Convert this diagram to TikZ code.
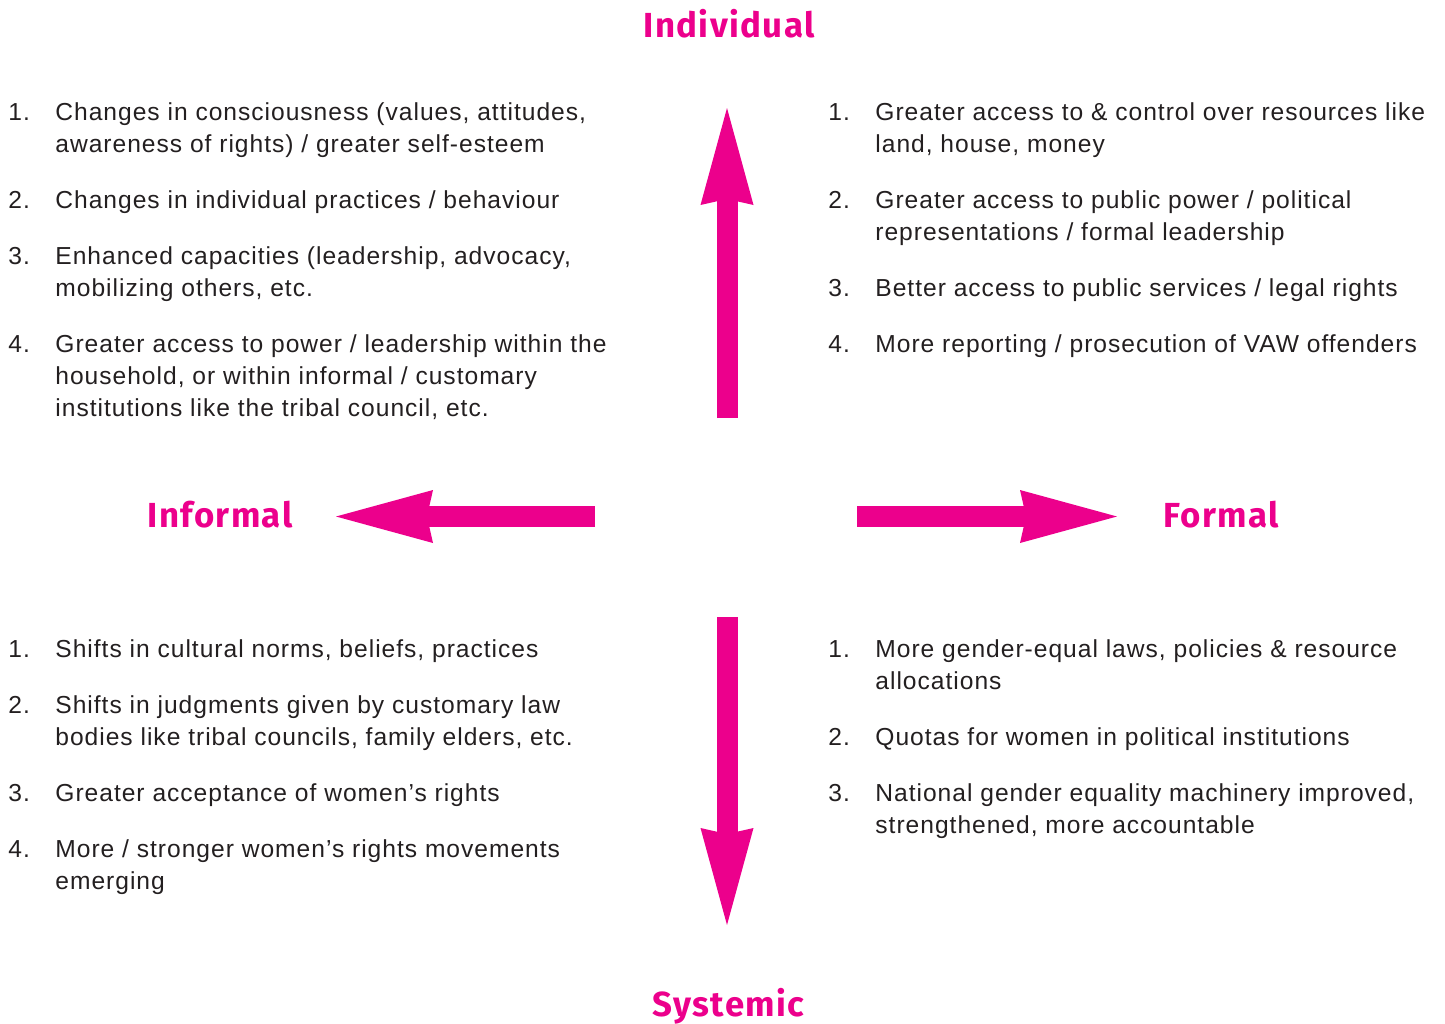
\documentclass[tikz,border=0pt]{standalone}
\usepackage{fontspec}
\setmainfont{Liberation Sans}[LetterSpace=4]
\newfontfamily\headfont{Fira Sans}[LetterSpace=4]
\usetikzlibrary{arrows.meta}
\definecolor{ChangePink}{RGB}{236,0,140}
\definecolor{ChangeText}{RGB}{35,31,32}

\begin{document}
\begin{tikzpicture}[
    x=0.5pt,y=-0.5pt,
    head/.style={anchor=base,inner sep=0pt,text=ChangePink,font=\headfont\bfseries\fontsize{17.4}{20}\selectfont},
    quad/.style={anchor=base west,inner sep=0pt,text=ChangeText,font=\fontsize{12.3}{16}\selectfont},
    bigarr/.style={-{Stealth[length=48.5pt,width=26.5pt,inset=3pt,line width=0pt]},line width=10.5pt,draw=ChangePink}
  ]
    \useasboundingbox (0,0) rectangle (1445,1023);

    % axis labels
    \node[head] (individual) at (729,37) {Individual};
    \node[head] (informal) at (220,527) {Informal};
    \node[head] (formal) at (1221,527) {Formal};
    \node[head] (systemic) at (728.5,1016) {Systemic};

    % arrows
    \coordinate (upfoot) at (727,418);
    \coordinate (uptip) at (727,108);
    \coordinate (downfoot) at (727,617);
    \coordinate (downtip) at (727,925);
    \coordinate (leftfoot) at (595,516.5);
    \coordinate (lefttip) at (336,516.5);
    \coordinate (rightfoot) at (857,516.5);
    \coordinate (righttip) at (1117,516.5);
    \draw[bigarr] (upfoot) -- (uptip);
    \draw[bigarr] (downfoot) -- (downtip);
    \draw[bigarr] (leftfoot) -- (lefttip);
    \draw[bigarr] (rightfoot) -- (righttip);

    % quadrants
    \node[quad] (indinf) at (8,120) {\begin{tabular}[t]{@{}p{23.5pt}@{}l@{}}
      1. & Changes in consciousness (values, attitudes,\\
         & awareness of rights) / greater self-esteem\\[12pt]
      2. & Changes in individual practices / behaviour\\[12pt]
      3. & Enhanced capacities (leadership, advocacy,\\
         & mobilizing others, etc.\\[12pt]
      4. & Greater access to power / leadership within the\\
         & household, or within informal / customary\\
         & institutions like the tribal council, etc.
    \end{tabular}};
    \node[quad] (indfor) at (828,120) {\begin{tabular}[t]{@{}p{23.5pt}@{}l@{}}
      1. & Greater access to \& control over resources like\\
         & land, house, money\\[12pt]
      2. & Greater access to public power / political\\
         & representations / formal leadership\\[12pt]
      3. & Better access to public services / legal rights\\[12pt]
      4. & More reporting / prosecution of VAW offenders
    \end{tabular}};
    \node[quad] (sysinf) at (8,657) {\begin{tabular}[t]{@{}p{23.5pt}@{}l@{}}
      1. & Shifts in cultural norms, beliefs, practices\\[12pt]
      2. & Shifts in judgments given by customary law\\
         & bodies like tribal councils, family elders, etc.\\[12pt]
      3. & Greater acceptance of women’s rights\\[12pt]
      4. & More / stronger women’s rights movements\\
         & emerging
    \end{tabular}};
    \node[quad] (sysfor) at (828,657) {\begin{tabular}[t]{@{}p{23.5pt}@{}l@{}}
      1. & More gender-equal laws, policies \& resource\\
         & allocations\\[12pt]
      2. & Quotas for women in political institutions\\[12pt]
      3. & National gender equality machinery improved,\\
         & strengthened, more accountable
    \end{tabular}};
  \end{tikzpicture}
\end{document}
